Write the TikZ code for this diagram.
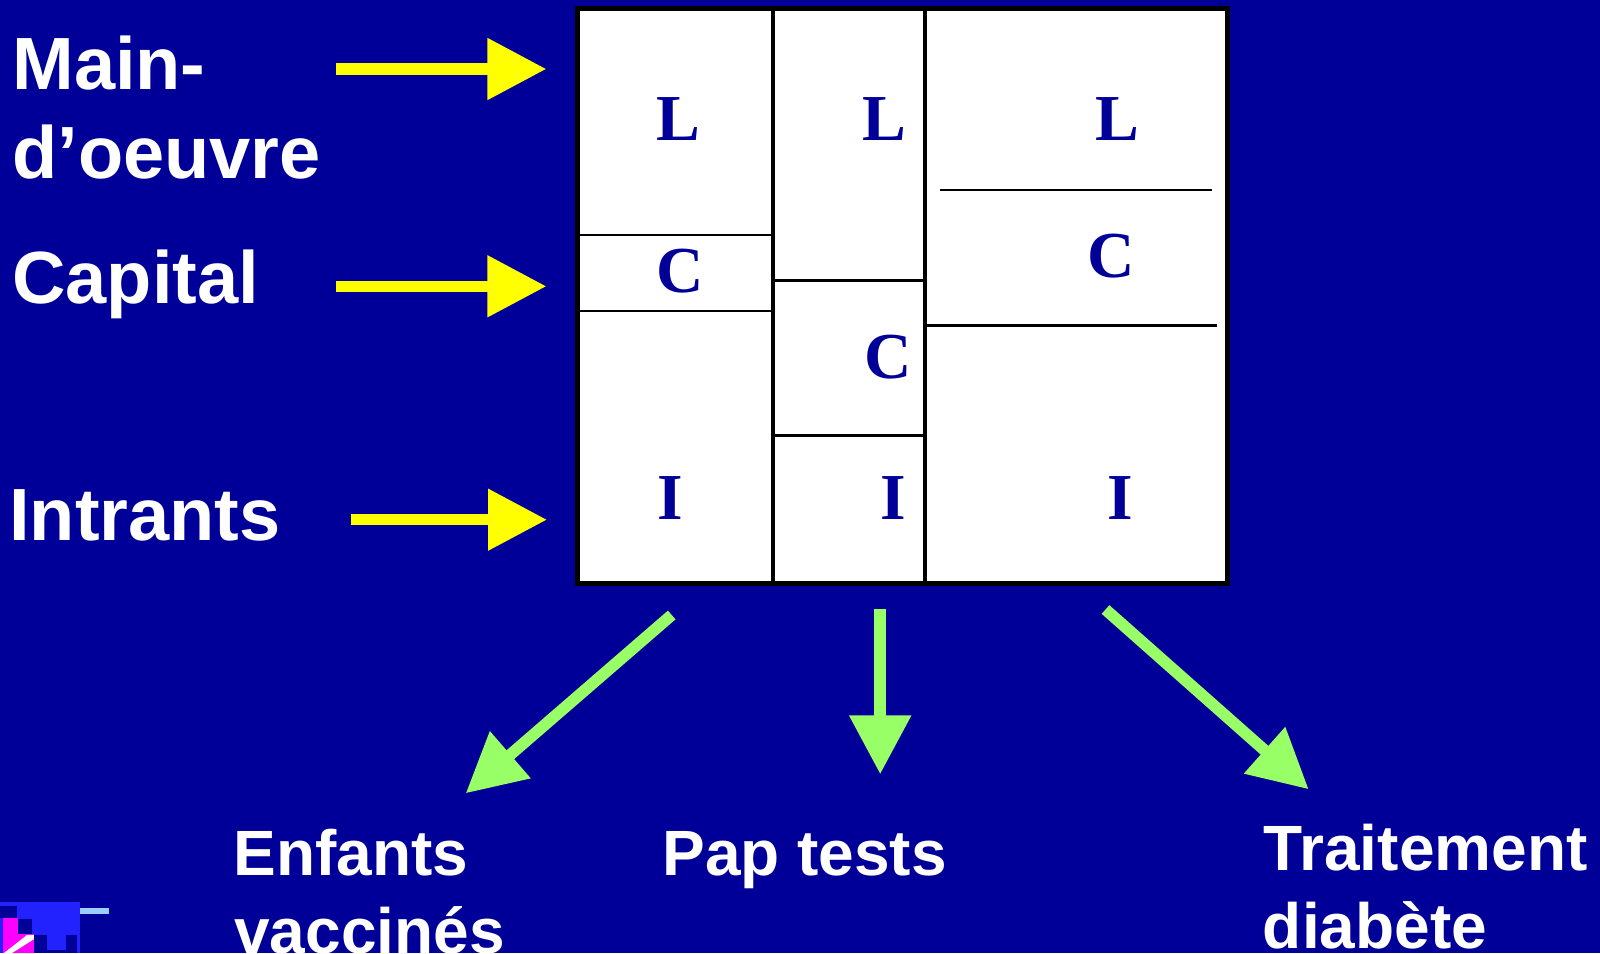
\documentclass[tikz,border=0pt]{standalone}
\usepackage{fontspec}
\setmainfont{Liberation Sans}
\newfontfamily\serifb{Liberation Serif}
\usetikzlibrary{arrows.meta}
\definecolor{bg}{RGB}{0,0,153}
\definecolor{ylw}{RGB}{255,255,0}
\definecolor{grn}{RGB}{153,255,102}
\definecolor{lgblue}{RGB}{34,34,255}
\definecolor{pale}{RGB}{153,204,255}
\definecolor{mag}{RGB}{255,0,255}
\begin{document}
\begin{tikzpicture}[x=0.5pt,y=-0.5pt,
  lbl/.style={anchor=base west, inner sep=0pt, text=white, font=\fontsize{37pt}{44pt}\selectfont\bfseries},
  olbl/.style={anchor=base west, inner sep=0pt, text=white, font=\fontsize{32pt}{39pt}\selectfont\bfseries},
  letr/.style={anchor=base, inner sep=0pt, text=bg, font=\fontsize{32.8pt}{39pt}\selectfont\serifb\bfseries},
  yarrow/.style={draw=ylw, line width=5.7pt, -{Triangle[length=29.5pt,width=29.5pt]}},
  garrow/.style={draw=grn, line width=5.8pt, -{Triangle[length=29.5pt,width=29.6pt]}},
  thinline/.style={draw=black, line width=1.2pt},
  divline/.style={draw=black, line width=2pt},
  outer/.style={draw=black, line width=2.5pt}
]
\useasboundingbox (0,0) rectangle (1600,953);
\fill[bg] (0,0) rectangle (1600,953);

% logo (bottom left)
\fill[lgblue] (0,901.7) rectangle (80,953);
\fill[pale] (80,908.3) rectangle (109,913.7);
\fill[bg] (0,906) rectangle (16.7,917.7);
\fill[bg] (18.3,919) rectangle (32.3,933.7);
\fill[mag] (3.3,917.7) rectangle (18.3,953);
\fill[mag] (18.3,933.7) rectangle (34.3,953);
\fill[white] (4,953) -- (12,953) -- (34.3,939) -- (34.3,935) -- (27,935) -- cycle;
\fill[bg] (34.3,935) rectangle (46.7,953);
\fill[bg] (65.7,935) rectangle (76.7,953);
\fill[bg] (46.7,950) rectangle (65.7,953);

% box
\fill[white] (577.7,8) rectangle (1227.5,583.5);
\draw[thinline] (577.7,235) -- (773.4,235);
\draw[thinline] (577.7,310.8) -- (773.4,310.8);
\draw[thinline] (773.4,280.5) -- (925,280.5);
\draw[thinline] (773.4,435.5) -- (925,435.5);
\draw[thinline] (940,190) -- (1212.3,190);
\draw[thinline] (925,325.3) -- (1217.3,325.3);
\draw[divline] (773.4,8) -- (773.4,583.5);
\draw[divline] (925,8) -- (925,583.5);
\draw[outer] (577.7,8) rectangle (1227.5,583.5);

% letters
\node[letr] (L1) at (678,140.8) {L};
\node[letr] (L2) at (884,140.8) {L};
\node[letr] (L3) at (1117,140.8) {L};
\node[letr] (C1) at (680,292) {C};
\node[letr] (C2) at (888.5,378) {C};
\node[letr] (C3) at (1111,277) {C};
\node[letr] (I1) at (670,519.7) {I};
\node[letr] (I2) at (893.6,519) {I};
\node[letr] (I3) at (1120,519) {I};

% left labels
\node[lbl] (main) at (12,89.3) {Main-};
\node[lbl] (oeuvre) at (12,178.3) {d’oeuvre};
\node[lbl] (capital) at (12,303.3) {Capital};
\node[lbl] (intrants) at (9,540) {Intrants};

% bottom labels
\node[olbl] (enf) at (233,875.7) {Enfants};
\node[olbl] (vac) at (234,953.7) {vaccinés};
\node[olbl] (pap) at (662,875.7) {Pap tests};
\node[olbl] (trait) at (1263.5,870) {Traitement};
\node[olbl] (diab) at (1262.5,948) {diabète};

% yellow arrows
\coordinate (ya1s) at (336,69);
\coordinate (ya1e) at (546.4,69);
\coordinate (ya2s) at (336,286.3);
\coordinate (ya2e) at (546.4,286.3);
\coordinate (ya3s) at (351,519.7);
\coordinate (ya3e) at (547,519.7);
\draw[yarrow] (ya1s) -- (ya1e);
\draw[yarrow] (ya2s) -- (ya2e);
\draw[yarrow] (ya3s) -- (ya3e);

% green arrows
\coordinate (ga1s) at (671.7,615);
\coordinate (ga1e) at (465.7,793.3);
\coordinate (ga2s) at (880.2,609);
\coordinate (ga2e) at (880.2,774.3);
\coordinate (ga3s) at (1105.5,609.5);
\coordinate (ga3e) at (1308.7,789.3);
\draw[garrow] (ga1s) -- (ga1e);
\draw[garrow] (ga2s) -- (ga2e);
\draw[garrow] (ga3s) -- (ga3e);
\end{tikzpicture}
\end{document}
